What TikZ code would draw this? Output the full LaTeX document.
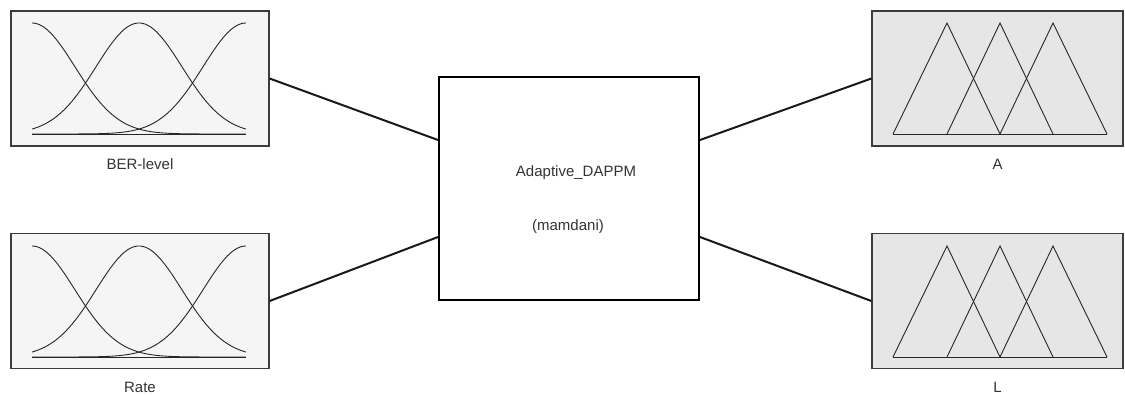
\documentclass[tikz,border=0pt]{standalone}
\usepackage{fontspec}
\setmainfont{Liberation Sans}
\usetikzlibrary{positioning,calc}

\definecolor{ingray}{HTML}{F5F5F5}
\definecolor{outgray}{HTML}{E6E6E6}
\definecolor{framegray}{HTML}{3C3C3C}
\definecolor{textgray}{HTML}{333333}

\tikzset{
  inbox/.style={draw=framegray, fill=ingray, line width=1.3pt, minimum width=258pt, minimum height=135pt, inner sep=0pt},
  outbox/.style={draw=framegray, fill=outgray, line width=1.3pt, minimum width=251pt, minimum height=135pt, inner sep=0pt},
  fisbox/.style={draw=black, line width=2pt, minimum width=260pt, minimum height=223pt, inner sep=0pt},
  lbl/.style={inner sep=0pt, text=textgray, font=\fontsize{15}{18}\selectfont},
  mf/.style={draw=black!85, line width=0.9pt},
  wire/.style={draw=black!90, line width=2pt}
}

\begin{document}
\begin{tikzpicture}[x=1pt, y=-1pt]

\useasboundingbox (0,0) rectangle (1125,394);

% input variables
\node[inbox] (ber) at (140,78.5) {};
\node[inbox] (rate) at (140,301) {};

% output variables
\node[outbox] (outa) at (997.5,78.5) {};
\node[outbox] (outl) at (997.5,301) {};

% fuzzy system
\node[fisbox] (fis) at (569,188.5) {};
\node[lbl] (fisname) at (576,173) {Adaptive\_DAPPM};
\node[lbl] (fistype) at (568,227) {(mamdani)};

% gaussian membership functions
\foreach \t in {11,234} {
  \draw[mf] (32,\t+123) -- (246,\t+123);
  \foreach \c in {32,139,246}
    \draw[mf] plot[domain=32:246, samples=80, smooth]
      (\x, {\t+123 - 111*exp(-0.5*((\x-\c)/42.9)^2)});
}

% triangular membership functions
\foreach \t in {11,234} {
  \draw[mf] (893,\t+123) -- (1107,\t+123);
  \foreach \a/\b/\c in {893/947/1000, 947/1000/1053, 1000/1053/1107}
    \draw[mf] (\a,\t+123) -- (\b,\t+12) -- (\c,\t+123);
}

% names
\node[lbl, below=12pt of ber] (berlabel) {BER-level};
\node[lbl, below=13pt of rate] (ratelabel) {Rate};
\node[lbl, below=12pt of outa] (alabel) {A};
\node[lbl, below=13pt of outl] (llabel) {L};

% connections
\draw[wire] (ber.east) -- ($(fis.west)+(0,-48.5)$);
\draw[wire] (rate.east) -- ($(fis.west)+(0,48.5)$);
\draw[wire] ($(fis.east)+(0,-48.5)$) -- (outa.west);
\draw[wire] ($(fis.east)+(0,48.5)$) -- (outl.west);

\end{tikzpicture}
\end{document}
